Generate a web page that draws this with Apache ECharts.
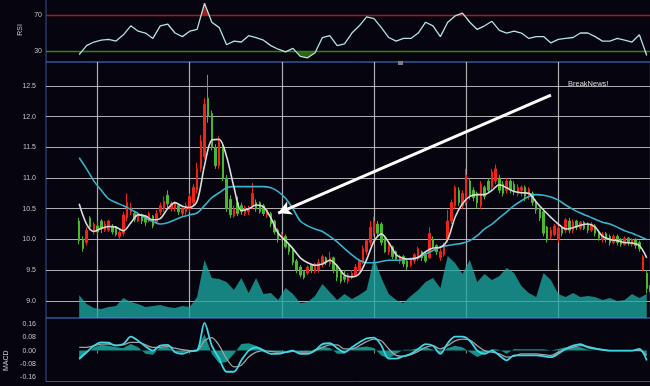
<!DOCTYPE html>
<html><head><meta charset="utf-8">
<script src="https://cdn.jsdelivr.net/npm/echarts@6/dist/echarts.min.js"></script>
<style>html,body{margin:0;padding:0;background:#06040e;overflow:hidden;}#c{width:680px;height:386px;}</style>
</head><body><div id="c"></div>
<script>
// ---------- data ----------
const categoryCount = 169;          // trading-day slots on the time axis
const candleStart = 9;              // slot of the first candle
const lineStart = 9;                // slot of first indicator sample
const lineStep = 2;                 // indicator samples every 2 slots
const gridlineFirst = 14, gridlineEvery = 25;
const rsiLevels = [30, 70];
const breakNews = 'BreakNews!';
const arrowFrom = [137, 12.35];
const arrowTo = [63, 10.43];

// [open, close, low, high]
const candles = [
[10.30,9.98,9.92,10.35],[10.00,9.85,9.80,10.05],[9.95,10.15,9.90,10.20],[10.35,10.20,10.15,10.38],
[10.12,10.25,10.08,10.28],[10.22,10.12,10.08,10.30],[10.30,10.18,10.10,10.33],[10.15,10.25,10.12,10.30],
[10.15,10.30,10.12,10.32],[10.22,10.12,10.08,10.25],[10.20,10.08,10.05,10.22],[10.05,10.12,10.00,10.15],
[10.10,10.40,10.05,10.45],[10.35,10.60,10.30,10.75],[10.45,10.52,10.40,10.60],[10.42,10.32,10.28,10.45],
[10.30,10.40,10.28,10.45],[10.40,10.30,10.25,10.42],[10.38,10.28,10.22,10.40],[10.30,10.42,10.28,10.45],
[10.38,10.22,10.18,10.40],[10.28,10.42,10.25,10.48],[10.45,10.55,10.40,10.60],[10.50,10.62,10.45,10.70],
[10.72,10.58,10.50,10.80],[10.50,10.58,10.45,10.62],[10.50,10.60,10.45,10.62],[10.55,10.45,10.40,10.58],
[10.42,10.50,10.38,10.55],[10.45,10.55,10.40,10.60],[10.50,10.70,10.45,10.75],[10.60,10.85,10.55,10.90],
[10.80,11.15,10.75,11.25],[11.15,11.60,11.10,11.70],[11.35,12.20,11.30,12.30],[12.30,12.00,11.90,12.68],
[12.05,11.50,11.45,12.10],[11.50,11.20,11.15,11.55],[11.20,11.60,11.15,11.68],[11.50,11.00,10.95,11.55],
[11.00,10.50,10.45,11.05],[10.65,10.40,10.35,10.72],[10.38,10.50,10.35,10.55],[10.60,10.42,10.38,10.70],
[10.55,10.45,10.40,10.60],[10.42,10.52,10.38,10.55],[10.45,10.50,10.40,10.55],[10.55,10.75,10.50,10.92],
[10.60,10.50,10.45,10.65],[10.60,10.45,10.42,10.62],[10.55,10.42,10.38,10.58],[10.40,10.48,10.35,10.50],
[10.42,10.25,10.20,10.45],[10.30,10.12,10.08,10.32],[10.15,10.00,9.95,10.18],[10.02,10.08,9.98,10.12],
[10.05,9.88,9.85,10.08],[9.90,9.80,9.75,9.92],[9.82,9.62,9.58,9.85],[9.65,9.50,9.45,9.68],
[9.55,9.42,9.38,9.58],[9.48,9.38,9.35,9.50],[9.45,9.55,9.42,9.58],[9.58,9.50,9.45,9.60],
[9.48,9.60,9.45,9.62],[9.50,9.62,9.46,9.68],[9.60,9.72,9.55,9.75],[9.70,9.62,9.58,9.72],
[9.60,9.70,9.55,9.80],[9.70,9.50,9.45,9.72],[9.55,9.38,9.32,9.58],[9.45,9.32,9.28,9.48],
[9.40,9.35,9.30,9.50],[9.32,9.42,9.28,9.45],[9.38,9.45,9.35,9.50],[9.42,9.55,9.40,9.60],
[9.50,9.65,9.46,9.68],[9.62,9.85,9.60,9.90],[9.80,9.98,9.75,10.00],[9.95,10.20,9.90,10.30],
[10.10,10.30,10.05,10.37],[10.25,10.10,10.05,10.30],[10.25,9.95,9.90,10.28],[10.00,9.80,9.78,10.02],
[9.80,9.90,9.75,9.95],[9.88,9.72,9.68,9.90],[9.80,9.68,9.65,9.82],[9.65,9.72,9.60,9.75],
[9.72,9.60,9.55,9.75],[9.65,9.55,9.50,9.68],[9.58,9.68,9.55,9.70],[9.65,9.75,9.60,9.78],
[9.68,9.85,9.65,9.88],[9.80,9.70,9.65,9.82],[9.75,9.65,9.62,9.78],[9.70,10.10,9.68,10.20],
[10.00,9.88,9.85,10.05],[9.90,9.80,9.75,9.92],[9.70,9.80,9.65,9.85],[9.75,9.90,9.72,9.95],
[10.00,10.30,9.95,10.48],[10.30,10.60,10.25,10.65],[10.55,10.85,10.50,10.88],[10.80,10.60,10.55,10.85],
[10.55,10.75,10.50,10.80],[10.60,11.05,10.55,11.15],[10.95,10.70,10.65,11.00],[10.80,10.68,10.62,10.85],
[10.75,10.60,10.50,10.78],[10.55,10.90,10.50,10.95],[10.85,10.70,10.65,10.88],[10.95,10.80,10.75,11.00],
[10.85,11.10,10.80,11.15],[10.95,11.15,10.90,11.22],[11.00,10.80,10.75,11.05],[10.90,10.75,10.70,10.95],
[10.80,10.95,10.75,11.00],[10.95,10.80,10.75,10.98],[10.90,10.78,10.72,10.95],[10.75,10.85,10.70,10.90],
[10.80,10.85,10.70,10.88],[10.85,10.70,10.62,10.88],[10.72,10.82,10.65,10.85],[10.75,10.60,10.55,10.78],
[10.62,10.48,10.42,10.65],[10.50,10.35,10.30,10.52],[10.45,10.10,10.05,10.48],[10.20,10.00,9.95,10.22],
[10.05,10.15,10.00,10.20],[10.08,10.22,10.05,10.25],[10.00,10.18,9.95,10.22],[10.20,10.10,10.05,10.22],
[10.15,10.32,10.10,10.35],[10.30,10.15,10.10,10.35],[10.15,10.28,10.10,10.32],[10.30,10.20,10.15,10.32],
[10.18,10.28,10.15,10.30],[10.28,10.18,10.15,10.30],[10.25,10.15,10.10,10.28],[10.15,10.25,10.12,10.28],
[10.22,10.10,10.05,10.25],[10.12,10.02,9.98,10.15],[10.00,10.08,9.95,10.12],[10.10,10.00,9.95,10.12],
[10.05,9.95,9.90,10.08],[9.95,10.05,9.92,10.08],[10.05,9.95,9.90,10.08],[10.00,9.92,9.88,10.02],
[9.92,10.02,9.90,10.05],[10.02,9.95,9.90,10.04],[9.92,10.00,9.88,10.02],[10.00,9.90,9.85,10.02],
[9.95,9.85,9.80,9.98],[9.50,9.72,9.48,9.75],[9.45,9.20,9.12,9.50],[9.25,9.15,9.10,9.30]
];

const maShort = [10.58,10.25,10.13,10.18,10.21,10.20,10.14,10.27,10.40,10.38,
10.32,10.34,10.50,10.60,10.54,10.52,10.62,11.20,11.62,11.63,
11.35,10.85,10.47,10.50,10.56,10.53,10.35,10.10,9.98,9.85,
9.70,9.62,9.58,9.60,9.66,9.57,9.42,9.39,9.44,9.67,
9.97,10.09,9.95,9.75,9.69,9.68,9.71,9.80,9.86,9.87,
10.00,10.36,10.58,10.70,10.73,10.73,10.80,10.89,10.84,10.78,
10.76,10.75,10.61,10.48,10.36,10.25,10.17,10.19,10.23,10.25,
10.20,10.05,10.00,9.98,9.95,9.94,9.90,9.70];

const maLong = [11.33,11.15,10.95,10.80,10.66,10.60,10.55,10.49,10.42,10.35,
10.29,10.25,10.27,10.32,10.37,10.40,10.43,10.55,10.68,10.76,
10.84,10.86,10.86,10.86,10.86,10.86,10.84,10.78,10.67,10.50,
10.30,10.22,10.17,10.13,10.05,9.96,9.85,9.75,9.66,9.62,
9.62,9.64,9.66,9.66,9.67,9.69,9.70,9.76,9.82,9.88,
9.90,9.92,9.94,9.98,10.06,10.17,10.25,10.35,10.45,10.55,
10.63,10.70,10.73,10.72,10.69,10.64,10.56,10.49,10.43,10.38,
10.33,10.28,10.25,10.20,10.14,10.10,10.05,10.00];

const volume = [23,14,10,9,11,12,20,16,14,11,
12,13,11,10,12,11,21,58,40,39,
36,28,40,25,40,24,25,18,30,24,
15,16,22,34,26,18,24,19,23,28,
60,40,24,18,15,22,28,36,40,30,
62,55,44,58,36,44,38,42,50,45,
32,25,21,45,38,24,21,25,21,22,
21,18,20,17,18,24,20,24];

const rsi = [26,36,40,42,43,41,48,58,52,50,
44,58,60,50,46,52,54,83,62,56,
37,41,40,47,45,42,36,32,29,33,
24,22.5,28,45,47,36,38,50,58,68,
66,56,45,41,44,44,50,62,58,46,
62,69,72,62,54,58,63,53,50,52,
50,44,46,46,39,43,44,45,50,50,
46,41,41,44,42,40,48,25];

const macdDif = [-0.05,-0.01,0.03,0.05,0.048,0.03,0.04,0.085,0.06,0.025,
0.0,0.03,0.035,-0.01,-0.02,-0.005,0.0,0.17,0.03,-0.05,
-0.13,-0.13,-0.06,0.0,0.02,0.0,-0.02,-0.02,-0.01,0.0,
-0.02,-0.02,0.0,0.04,0.045,0.015,-0.01,0.02,0.05,0.075,
0.08,0.03,-0.05,-0.05,-0.035,-0.02,0.01,0.04,0.03,-0.02,
0.045,0.085,0.085,0.06,0.0,-0.02,0.0,-0.03,-0.06,-0.03,
-0.03,-0.03,-0.03,-0.035,-0.04,-0.02,0.01,0.03,0.04,0.02,
0.01,0.005,0.0,0.0,0.0,0.0,0.01,-0.06];

const macdDea = [0.02,0.02,0.03,0.04,0.04,0.033,0.035,0.05,0.05,0.035,
0.02,0.02,0.025,0.015,0.005,0.0,0.0,0.06,0.08,0.03,
-0.05,-0.1,-0.09,-0.04,-0.01,0.0,-0.005,-0.01,-0.01,-0.005,
-0.01,-0.01,0.0,0.02,0.035,0.035,0.01,0.01,0.03,0.055,
0.07,0.06,0.01,-0.03,-0.035,-0.025,-0.005,0.02,0.03,0.01,
0.03,0.06,0.07,0.065,0.03,0.0,-0.01,-0.02,-0.04,-0.035,
-0.02,-0.02,-0.02,-0.025,-0.03,-0.01,0.01,0.02,0.03,0.025,
0.015,0.005,0.0,0.0,0.0,0.0,0.0,-0.03];

const macdHist = [-0.06,-0.02,0.02,0.035,0.03,0.02,0.015,0.04,0.02,-0.02,
-0.025,0.02,0.02,-0.01,-0.015,0.0,0.01,0.1,-0.02,-0.08,
-0.07,-0.02,0.04,0.045,0.03,0.01,-0.01,-0.01,0.0,0.005,
-0.01,-0.01,0.01,0.025,0.015,-0.02,-0.02,0.015,0.02,0.025,
0.015,-0.03,-0.05,-0.02,0.005,0.005,0.015,0.02,0.005,-0.02,
0.015,0.03,0.02,-0.01,-0.04,-0.02,0.01,0.005,-0.02,0.01,
0.008,0.008,0.008,0.008,0.0,0.01,0.02,0.025,0.02,0.005,
0.0,0.0,0.0,0.0,0.0,0.0,0.008,-0.03];

// ---------- build ----------
const categories = Array.from({length: categoryCount}, (_, i) => 'D' + i);
const atSlot = arr => arr.map((v, k) => [lineStart + lineStep * k, v]);
const candleRows = candles.map((c, j) => [candleStart + j, c[0], c[1], c[2], c[3]]);
const isGridSlot = i => i >= gridlineFirst && (i - gridlineFirst) % gridlineEvery === 0;

const LEFT = 46, SLOT = 3.6856, WIDTH = (categoryCount - 1) * SLOT;
const FONT = 'Liberation Sans';
const labelColor = '#c4c4c4';
const border = '#34559c';
const gridGray = 'rgba(205,205,205,0.85)';

const baseX = (gi) => ({
  type: 'category', gridIndex: gi, data: categories, boundaryGap: false,
  axisLine: {show: false}, axisTick: {show: false}, axisLabel: {show: false}, splitLine: {show: false}
});
const gridBox = (top, height) => ({left: LEFT, width: WIDTH, top: top, height: height, show: true,
  borderColor: border, borderWidth: 1, backgroundColor: 'transparent', containLabel: false, outerBoundsMode: 'none'});

const chart = echarts.init(document.getElementById('c'), null, {renderer: 'canvas'});
chart.setOption({
  backgroundColor: '#06040e',
  animation: false,
  textStyle: {fontFamily: FONT},
  title: {text: breakNews, left: 563, top: 75, textStyle: {fontSize: 7.5, color: '#d8d8d8', fontWeight: 'normal', fontFamily: FONT}},
  grid: [gridBox(-2, 64), gridBox(62, 256), gridBox(318, 63.5)],
  xAxis: [
    baseX(0),
    Object.assign(baseX(1), {splitLine: {show: true, interval: (i) => isGridSlot(i), lineStyle: {color: gridGray, width: 1.2}}}),
    Object.assign(baseX(2), {axisTick: {show: true, interval: (i) => isGridSlot(i), length: 3, lineStyle: {color: '#8a8a8a'}}})
  ],
  yAxis: [
    {type: 'value', gridIndex: 0, min: 17.8, max: 88.9, minInterval: 10, maxInterval: 10,
     name: 'RSI', nameLocation: 'middle', nameGap: 21, nameTextStyle: {color: labelColor, fontSize: 7},
     axisLine: {show: false}, axisTick: {show: false}, splitLine: {show: false},
     axisLabel: {color: labelColor, fontSize: 7, margin: 4, showMinLabel: false, showMaxLabel: false,
       formatter: v => rsiLevels.includes(Math.round(v)) && Math.abs(v - Math.round(v)) < 1e-6 ? String(Math.round(v)) : ''}},
    {type: 'value', gridIndex: 1, min: 8.72, max: 12.89, splitNumber: 8, minInterval: 0.5, maxInterval: 0.5,
     axisLine: {show: false}, axisTick: {show: false},
     splitLine: {show: true, showMinLine: false, showMaxLine: false, lineStyle: {color: gridGray, width: 1.2}},
     axisLabel: {color: labelColor, fontSize: 7, margin: 10, showMinLabel: false, showMaxLabel: false, formatter: v => v.toFixed(1)}},
    {type: 'value', gridIndex: 1, min: 0, max: 256, show: false, splitLine: {show: false}},
    {type: 'value', gridIndex: 2, min: -0.19, max: 0.2, splitNumber: 5, minInterval: 0.08, maxInterval: 0.08,
     name: 'MACD', nameLocation: 'middle', nameGap: 30, nameTextStyle: {color: labelColor, fontSize: 7, padding: [0, 22, 0, 0]},
     axisLine: {show: false}, axisTick: {show: false}, splitLine: {show: false},
     axisLabel: {color: labelColor, fontSize: 7, margin: 10, showMinLabel: false, showMaxLabel: false, formatter: v => v.toFixed(2)}}
  ],
  series: [
    {name: 'Volume', type: 'line', xAxisIndex: 1, yAxisIndex: 2, data: atSlot(volume), symbol: 'none', silent: true,
     lineStyle: {width: 0}, areaStyle: {color: 'rgba(28,168,160,0.78)', opacity: 1}, z: 1},
    {name: 'K', type: 'candlestick', xAxisIndex: 1, yAxisIndex: 1, data: candleRows, encode: {x: 0, y: [1, 2, 3, 4]},
     barWidth: 2, z: 2,
     itemStyle: {color: '#ee2418', color0: '#48b82e', borderColor: '#ee2418', borderColor0: '#48b82e', borderWidth: 1}},
    {name: 'MA long', type: 'line', xAxisIndex: 1, yAxisIndex: 1, data: atSlot(maLong), symbol: 'none', smooth: 0.3,
     lineStyle: {color: '#36b4cc', width: 1.6}, z: 3},
    {name: 'MA short', type: 'line', xAxisIndex: 1, yAxisIndex: 1, data: atSlot(maShort), symbol: 'none', smooth: 0.3,
     lineStyle: {color: '#dcdcdc', width: 1.6}, z: 4,
     markLine: {silent: true, symbol: ['none', 'arrow'], symbolSize: [11, 13], label: {show: false},
       lineStyle: {color: '#ffffff', width: 3, type: 'solid'},
       data: [[{coord: arrowFrom}, {coord: arrowTo}]]}},
    {id: 'rsiOver', name: 'RSI over', type: 'line', xAxisIndex: 0, yAxisIndex: 0, data: atSlot(rsi), symbol: 'none', silent: true, z: 4,
     lineStyle: {width: 0}, areaStyle: {origin: rsiLevels[1], opacity: 1, color: 'rgba(0,0,0,0)'}},
    {id: 'rsiUnder', name: 'RSI under', type: 'line', xAxisIndex: 0, yAxisIndex: 0, data: atSlot(rsi), symbol: 'none', silent: true, z: 4,
     lineStyle: {width: 0}, areaStyle: {origin: rsiLevels[0], opacity: 1, color: 'rgba(0,0,0,0)'}},
    {name: 'RSI', type: 'line', xAxisIndex: 0, yAxisIndex: 0, data: atSlot(rsi), symbol: 'none', z: 5,
     lineStyle: {color: '#b2e4e2', width: 1.3},
     markLine: {silent: true, symbol: 'none', label: {show: false},
       data: [{yAxis: rsiLevels[1], lineStyle: {color: '#a51a1a', width: 1.4, type: 'solid'}},
              {yAxis: rsiLevels[0], lineStyle: {color: '#3f7c16', width: 1.4, type: 'solid'}}]}},
    {name: 'MACD hist', type: 'line', xAxisIndex: 2, yAxisIndex: 3, data: atSlot(macdHist), symbol: 'none', silent: true,
     lineStyle: {width: 0}, areaStyle: {origin: 0, color: 'rgba(26,160,150,0.9)', opacity: 1}, z: 2},
    {name: 'DEA', type: 'line', xAxisIndex: 2, yAxisIndex: 3, data: atSlot(macdDea), symbol: 'none', smooth: 0.3,
     lineStyle: {color: '#a2a2a2', width: 1.3}, z: 3},
    {name: 'DIF', type: 'line', xAxisIndex: 2, yAxisIndex: 3, data: atSlot(macdDif), symbol: 'none', smooth: 0.3,
     lineStyle: {color: '#3fd6e6', width: 1.8}, z: 4}
  ],
  graphic: [{type: 'rect', left: 398, top: 61, shape: {width: 5, height: 4}, style: {fill: '#7c7c84'}, silent: true}]
});

// threshold fills: colour only the part of the area beyond each RSI level
const yHi = chart.convertToPixel({yAxisIndex: 0}, rsiLevels[1]);
const yLo = chart.convertToPixel({yAxisIndex: 0}, rsiLevels[0]);
chart.setOption({series: [
  {id: 'rsiOver', areaStyle: {color: {type: 'linear', global: true, x: 0, y: yHi - 0.5, x2: 0, y2: yHi + 0.5,
    colorStops: [{offset: 0, color: '#9a1e1e'}, {offset: 1, color: 'rgba(0,0,0,0)'}]}}},
  {id: 'rsiUnder', areaStyle: {color: {type: 'linear', global: true, x: 0, y: yLo - 0.5, x2: 0, y2: yLo + 0.5,
    colorStops: [{offset: 0, color: 'rgba(0,0,0,0)'}, {offset: 1, color: '#2f6414'}]}}}
]});
</script></body></html>
